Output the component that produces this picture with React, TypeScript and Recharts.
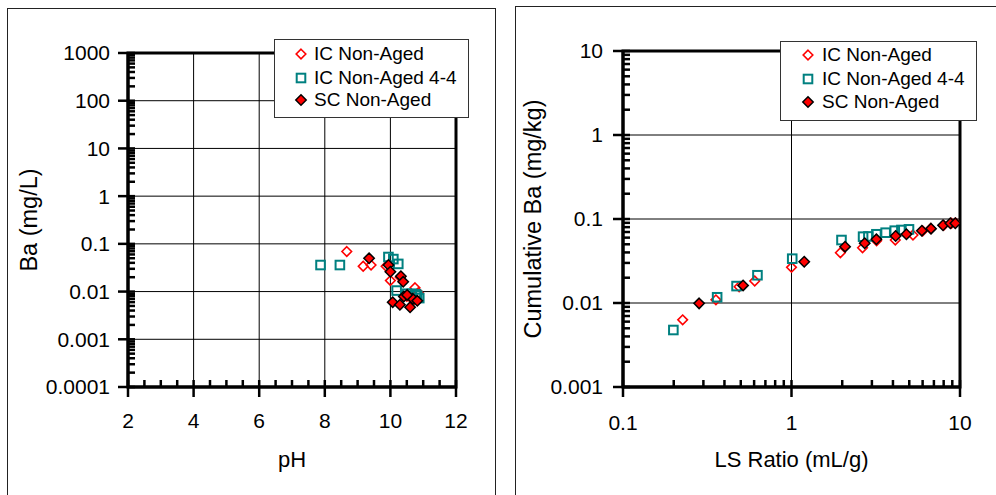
import React from "react";
import { CartesianGrid, Legend, ReferenceArea, Scatter, ScatterChart, XAxis, YAxis } from "recharts";

// left panel: Ba concentration vs pH
const phIcNonAged = [8.67, 9.17, 9.41, 9.87, 10.0, 10.3, 10.75, 10.85, 10.5, 10.7];
const baIcNonAged = [0.069, 0.034, 0.036, 0.034, 0.017, 0.02, 0.012, 0.0095, 0.008, 0.0065];
const phIcNonAged44 = [7.87, 8.46, 9.94, 10.09, 10.24, 10.19, 10.5, 10.65, 10.78, 10.88, 10.82];
const baIcNonAged44 = [0.036, 0.036, 0.053, 0.048, 0.038, 0.0105, 0.009, 0.009, 0.0088, 0.0073, 0.0082];
const phScNonAged = [9.35, 9.94, 10.0, 10.32, 10.39, 10.07, 10.29, 10.41, 10.6, 10.68, 10.82, 10.51];
const baScNonAged = [0.05, 0.036, 0.026, 0.021, 0.016, 0.006, 0.0053, 0.0079, 0.0047, 0.0071, 0.0064, 0.0085];

// right panel: cumulative Ba vs LS ratio
const lsIcNonAged = [0.226, 0.356, 0.489, 0.605, 1.0, 1.95, 2.64, 3.2, 4.13, 5.26, 6.0, 6.7, 8.0, 8.9, 9.4];
const cumIcNonAged = [0.0063, 0.0109, 0.0156, 0.0183, 0.0266, 0.0397, 0.0455, 0.055, 0.0562, 0.0645, 0.072, 0.077, 0.084, 0.089, 0.09];
const lsIcNonAged44 = [0.199, 0.362, 0.472, 0.628, 1.01, 1.98, 2.66, 2.86, 3.19, 3.62, 4.1, 4.49, 4.98];
const cumIcNonAged44 = [0.00477, 0.0117, 0.0159, 0.0214, 0.0337, 0.0562, 0.0616, 0.062, 0.0658, 0.0687, 0.0726, 0.074, 0.0753];
const lsScNonAged = [0.283, 0.516, 1.19, 2.08, 2.72, 3.19, 4.15, 4.81, 5.94, 6.73, 7.93, 8.77, 9.38];
const cumScNonAged = [0.0099, 0.0162, 0.031, 0.0468, 0.0514, 0.0573, 0.0628, 0.0658, 0.0726, 0.0768, 0.0842, 0.089, 0.089];

const seriesNames = ["IC Non-Aged", "IC Non-Aged 4-4", "SC Non-Aged"];

const phTicks = [2, 4, 6, 8, 10, 12];
const baTicks = [0.0001, 0.001, 0.01, 0.1, 1, 10, 100, 1000];
const lsTicks = [0.1, 1, 10];
const cumBaTicks = [0.001, 0.01, 0.1, 1, 10];

const FONT = '"Liberation Sans", Arial, Helvetica, sans-serif';
const TICK_SIZE = 10;

const toPoints = (xs: number[], ys: number[]) => xs.map((x, i) => ({ x, y: ys[i] }));

// major + minor tick positions (axis decoration only)
const withLogMinor = (majors: number[]) => [
  ...majors.slice(0, -1).flatMap((m) => [1, 2, 3, 4, 5, 6, 7, 8, 9].map((k) => Number((m * k).toPrecision(3)))),
  majors[majors.length - 1]
];
const withHalfSteps = (majors: number[]) => [
  ...majors.slice(0, -1).flatMap((m) => [m, m + 0.5, m + 1, m + 1.5]),
  majors[majors.length - 1]
];

function makeXTick(majors: number[], tickMargin: number) {
  return function XTick(props: any) {
    const { x, y, payload } = props;
    const axisY = y - TICK_SIZE - tickMargin;
    const major = majors.includes(payload.value);
    return (
      <g>
        <line x1={x} x2={x} y1={axisY - 7} y2={major ? axisY + TICK_SIZE : axisY} stroke="#000" strokeWidth={2.5} />
        {major && (
          <text x={x} y={y} dy="0.71em" textAnchor="middle" fontSize={21} fill="#000" fontFamily={FONT}>
            {String(payload.value)}
          </text>
        )}
      </g>
    );
  };
}

function makeYTick(majors: number[], tickMargin: number) {
  return function YTick(props: any) {
    const { x, y, payload } = props;
    const axisX = x + TICK_SIZE + tickMargin;
    const major = majors.includes(payload.value);
    return (
      <g>
        <line x1={major ? axisX - TICK_SIZE : axisX} x2={axisX + 7} y1={y} y2={y} stroke="#000" strokeWidth={2.5} />
        {major && (
          <text x={x} y={y} dy="0.355em" textAnchor="end" fontSize={21} fill="#000" fontFamily={FONT}>
            {String(payload.value)}
          </text>
        )}
      </g>
    );
  };
}

function HollowDiamond(props: any) {
  const { cx, cy } = props;
  if (cx == null || cy == null) return <g />;
  const r = 4.8;
  return (
    <path
      d={`M${cx},${cy - r}L${cx + r},${cy}L${cx},${cy + r}L${cx - r},${cy}Z`}
      fill="none"
      stroke="#ff0000"
      strokeWidth={1.6}
    />
  );
}

function HollowSquare(props: any) {
  const { cx, cy } = props;
  if (cx == null || cy == null) return <g />;
  const h = 4.3;
  return <rect x={cx - h} y={cy - h} width={h * 2} height={h * 2} fill="none" stroke="#008080" strokeWidth={2} />;
}

function FilledDiamond(props: any) {
  const { cx, cy } = props;
  if (cx == null || cy == null) return <g />;
  const r = 5.2;
  return (
    <path
      d={`M${cx},${cy - r}L${cx + r},${cy}L${cx},${cy + r}L${cx - r},${cy}Z`}
      fill="#ff0000"
      stroke="#000"
      strokeWidth={1.5}
    />
  );
}

const markers = [HollowDiamond, HollowSquare, FilledDiamond];

function LegendBox({ width, height, markerX, textX, rows }: any) {
  return (
    <div
      style={{
        position: "relative",
        width,
        height,
        boxSizing: "border-box",
        border: "1px solid #333",
        background: "#fff",
        fontFamily: FONT,
        fontSize: 19,
        color: "#000"
      }}
    >
      {seriesNames.map((name, i) => {
        const Marker = markers[i];
        return (
          <div key={name} style={{ position: "absolute", left: 0, top: rows[i] - 12, height: 24, width: "100%" }}>
            <svg width={20} height={24} style={{ position: "absolute", left: markerX - 10, top: 0 }}>
              <Marker cx={10} cy={12} />
            </svg>
            <span style={{ position: "absolute", left: textX, top: 0, lineHeight: "24px", whiteSpace: "nowrap" }}>
              {name}
            </span>
          </div>
        );
      })}
    </div>
  );
}

function Panel(props: any) {
  const {
    width,
    height,
    margin,
    yAxisWidth,
    xLog,
    xDomain,
    xTicks,
    xAllTicks,
    yDomain,
    yTicks,
    yAllTicks,
    xLabel,
    yLabel,
    yLabelOffset,
    xTickGap,
    yTickGap,
    series,
    legend
  } = props;
  return (
    <ScatterChart width={width} height={height} margin={margin}>
      <CartesianGrid stroke="#000" strokeWidth={1} verticalValues={xTicks} horizontalValues={yTicks} />
      <ReferenceArea
        x1={xDomain[0]}
        x2={xDomain[1]}
        y1={yDomain[0]}
        y2={yDomain[1]}
        fill="none"
        stroke="#000"
        strokeWidth={3}
        ifOverflow="visible"
      />
      <XAxis
        dataKey="x"
        type="number"
        scale={xLog ? "log" : "linear"}
        domain={xDomain}
        ticks={xAllTicks}
        interval={0}
        allowDataOverflow
        height={80}
        axisLine={{ stroke: "#000", strokeWidth: 3 }}
        tickLine={false}
        tickSize={TICK_SIZE}
        tickMargin={xTickGap}
        tick={makeXTick(xTicks, xTickGap)}
        label={{ value: xLabel, position: "insideBottom", offset: 0, style: { fontSize: 22, fill: "#000", fontFamily: FONT } }}
      />
      <YAxis
        dataKey="y"
        type="number"
        scale="log"
        domain={yDomain}
        ticks={yAllTicks}
        interval={0}
        allowDataOverflow
        width={yAxisWidth}
        axisLine={{ stroke: "#000", strokeWidth: 3 }}
        tickLine={false}
        tickSize={TICK_SIZE}
        tickMargin={yTickGap}
        tick={makeYTick(yTicks, yTickGap)}
        label={{
          value: yLabel,
          angle: -90,
          position: "insideLeft",
          offset: yLabelOffset,
          style: { fontSize: 23.5, fill: "#000", fontFamily: FONT, textAnchor: "middle" }
        }}
      />
      <Legend
        layout="vertical"
        align="center"
        verticalAlign="middle"
        wrapperStyle={{ left: legend.left, top: legend.top, width: legend.width, height: legend.height, right: "auto", bottom: "auto" }}
        content={() => <LegendBox {...legend} />}
      />
      {series.map((s: any, i: number) => (
        <Scatter
          key={seriesNames[i]}
          name={seriesNames[i]}
          data={s}
          shape={markers[i]}
          isAnimationActive={false}
        />
      ))}
    </ScatterChart>
  );
}

export default function App() {
  return (
    <div
      style={{
        position: "absolute",
        left: 0,
        top: 0,
        width: 996,
        height: 495,
        overflow: "hidden",
        background: "#fff",
        fontFamily: FONT
      }}
    >
      <div style={{ position: "absolute", left: 7, top: 8, width: 487, height: 520, border: "1px solid #222" }} />
      <div style={{ position: "absolute", left: 515, top: 6, width: 520, height: 520, border: "1px solid #222" }} />
      <div style={{ position: "absolute", left: 0, top: 0 }}>
        <Panel
          width={496}
          height={495}
          margin={{ top: 53, right: 40, left: 0, bottom: 28 }}
          yAxisWidth={128}
          xLog={false}
          xDomain={[2, 12]}
          xTicks={phTicks}
          xAllTicks={withHalfSteps(phTicks)}
          yDomain={[0.0001, 1000]}
          yTicks={baTicks}
          yAllTicks={withLogMinor(baTicks)}
          xLabel="pH"
          yLabel="Ba (mg/L)"
          yLabelOffset={29}
          xTickGap={16}
          yTickGap={8}
          series={[
            toPoints(phIcNonAged, baIcNonAged),
            toPoints(phIcNonAged44, baIcNonAged44),
            toPoints(phScNonAged, baScNonAged)
          ]}
          legend={{ left: 274, top: 39, width: 195, height: 79, markerX: 26, textX: 39, rows: [14, 38, 60] }}
        />
      </div>
      <div style={{ position: "absolute", left: 500, top: 0 }}>
        <Panel
          width={496}
          height={495}
          margin={{ top: 51, right: 36, left: 0, bottom: 28 }}
          yAxisWidth={123}
          xLog={true}
          xDomain={[0.1, 10]}
          xTicks={lsTicks}
          xAllTicks={withLogMinor(lsTicks)}
          yDomain={[0.001, 10]}
          yTicks={cumBaTicks}
          yAllTicks={withLogMinor(cumBaTicks)}
          xLabel="LS Ratio (mL/g)"
          yLabel="Cumulative Ba (mg/kg)"
          yLabelOffset={33}
          xTickGap={18}
          yTickGap={10}
          series={[
            toPoints(lsIcNonAged, cumIcNonAged),
            toPoints(lsIcNonAged44, cumIcNonAged44),
            toPoints(lsScNonAged, cumScNonAged)
          ]}
          legend={{ left: 280, top: 41, width: 197, height: 80, markerX: 27, textX: 41, rows: [13, 37, 60] }}
        />
      </div>
    </div>
  );
}
